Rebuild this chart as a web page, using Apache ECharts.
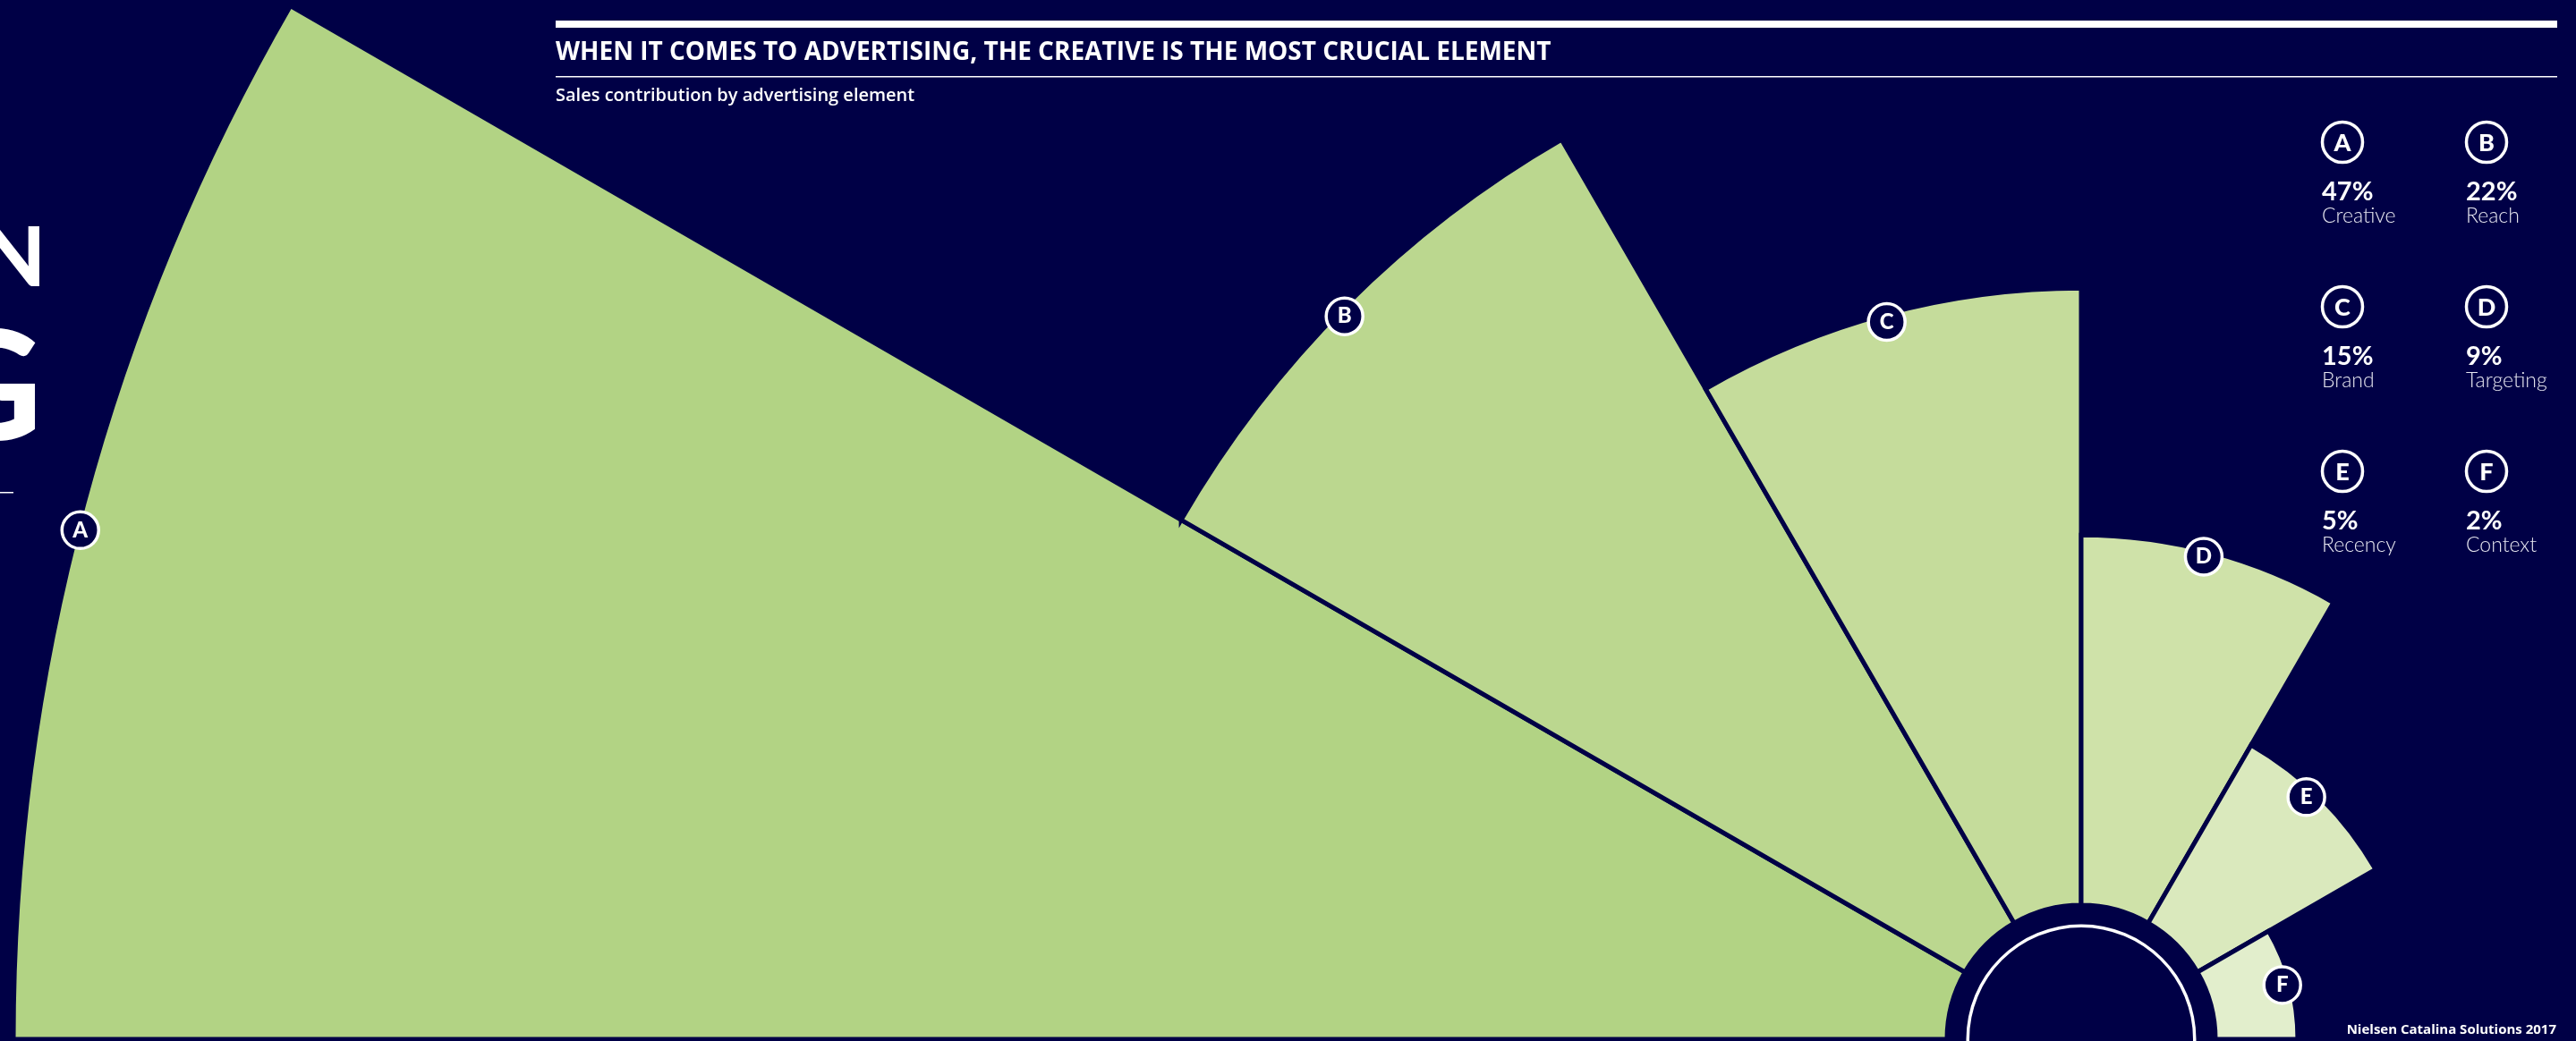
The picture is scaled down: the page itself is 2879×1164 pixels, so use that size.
<!DOCTYPE html>
<html>
<head>
<meta charset="utf-8">
<script src="https://cdn.jsdelivr.net/npm/echarts@6/dist/echarts.min.js"></script>
<style>
  html, body { margin: 0; padding: 0; background: #000046; }
  #chart { width: 2879px; height: 1164px; }
</style>
</head>
<body>
<div id="chart"></div>
<script>
// ---- data ----
const letters = ['A', 'B', 'C', 'D', 'E', 'F'];
const names = ['Creative', 'Reach', 'Brand', 'Targeting', 'Recency', 'Context'];
const values = [47, 22, 15, 9, 5, 2];
const colors = ['#B2D384', '#BBD78F', '#C5DC9B', '#CFE2A9', '#DAE9BD', '#E2EECC'];
const titleText = 'WHEN IT COMES TO ADVERTISING, THE CREATIVE IS THE MOST CRUCIAL ELEMENT';
const subtitleText = 'Sales contribution by advertising element';
const sourceText = 'Nielsen Catalina Solutions 2017';

const BG = '#000046';
const CENTER = [2326, 1162];
const FONT = 'Lato, "Open Sans", sans-serif';
const FONT2 = '"Open Sans", Lato, sans-serif';
// small per-label nudges (pixels) so badges sit where the reference has them
const labelNudges = [[-4, 29], [-2, 13], [0, 9], [-9, 5], [-17, -2], [-9, 2]];

const chart = echarts.init(document.getElementById('chart'));

// legend (top right)
const legendCols = [2618, 2779];
const legendRows = [159, 343, 527];
const legendEls = [];
letters.forEach((l, i) => {
  const cx = legendCols[i % 2];
  const cy = legendRows[Math.floor(i / 2)];
  legendEls.push({
    type: 'circle', shape: { cx: cx, cy: cy, r: 22.5 },
    style: { fill: BG, stroke: '#ffffff', lineWidth: 3.5 }
  });
  legendEls.push({
    type: 'text', x: cx, y: cy + 1,
    style: { text: l, fill: '#ffffff', font: '900 27px ' + FONT, align: 'center', verticalAlign: 'middle' }
  });
  legendEls.push({
    type: 'text', x: cx - 23, y: cy + 56,
    style: { text: values[i] + '%', fill: '#ffffff', font: 'bold 29px ' + FONT, align: 'left', verticalAlign: 'middle' }
  });
  legendEls.push({
    type: 'text', x: cx - 23, y: cy + 83,
    style: { text: names[i], fill: '#E6E6F0', font: '300 23px ' + FONT, align: 'left', verticalAlign: 'middle' }
  });
});

const option = {
  backgroundColor: BG,
  animation: false,
  polar: { center: CENTER, radius: [150, 2311] },
  angleAxis: {
    type: 'category', data: letters, startAngle: 180, endAngle: 0, clockwise: true,
    boundaryGap: true,
    axisLine: { show: false }, axisTick: { show: false }, axisLabel: { show: false }, splitLine: { show: false }
  },
  radiusAxis: {
    type: 'value', min: 0, max: 47,
    axisLine: { show: false }, axisTick: { show: false }, axisLabel: { show: false }, splitLine: { show: false }
  },
  graphic: [
    { type: 'rect', shape: { x: 621, y: 23, width: 2237, height: 8 }, style: { fill: '#ffffff' } },
    { type: 'text', x: 621, y: 59, style: { text: titleText, fill: '#ffffff', font: 'bold 28px ' + FONT2, align: 'left', verticalAlign: 'middle' } },
    { type: 'rect', shape: { x: 621, y: 85, width: 2237, height: 1.5 }, style: { fill: '#ffffff' } },
    { type: 'text', x: 621, y: 107, style: { text: subtitleText, fill: '#ffffff', font: '600 20px ' + FONT2, align: 'left', verticalAlign: 'middle' } },
    { type: 'text', x: 2857, y: 1152, style: { text: sourceText, fill: '#ffffff', font: 'bold 15px ' + FONT2, align: 'right', verticalAlign: 'middle' } },
    { type: 'text', x: 51, y: 290, style: { text: 'N', fill: '#ffffff', font: '900 92px ' + FONT, align: 'right', verticalAlign: 'middle' } },
    { type: 'text', x: 47, y: 437, style: { text: 'G', fill: '#ffffff', font: '900 170px ' + FONT, align: 'right', verticalAlign: 'middle' } },
    { type: 'rect', shape: { x: 0, y: 550, width: 15, height: 1.5 }, style: { fill: '#ffffff' } }
  ].concat(legendEls),
  series: [
    {
      type: 'bar', coordinateSystem: 'polar', barCategoryGap: '0%', silent: true,
      data: values.map((v, i) => ({ value: v, itemStyle: { color: colors[i] } })),
      itemStyle: { borderColor: BG, borderWidth: 5 },
      z: 2
    },
    {
      type: 'pie', center: CENTER, radius: [125, 128.5], silent: true, label: { show: false },
      data: [{ value: 1, itemStyle: { color: '#ffffff' } }], z: 3
    },
    {
      type: 'scatter', coordinateSystem: 'polar', silent: true, symbol: 'circle', symbolSize: 41,
      data: values.map((v, i) => ({ value: [v, letters[i]], symbolOffset: labelNudges[i] })),
      itemStyle: { color: BG, borderColor: '#ffffff', borderWidth: 3.5, opacity: 1 },
      label: {
        show: true, position: 'inside', formatter: p => letters[p.dataIndex],
        color: '#ffffff', fontFamily: FONT, fontWeight: 900, fontSize: 24
      },
      z: 5
    }
  ]
};
chart.setOption(option);
</script>
</body>
</html>
